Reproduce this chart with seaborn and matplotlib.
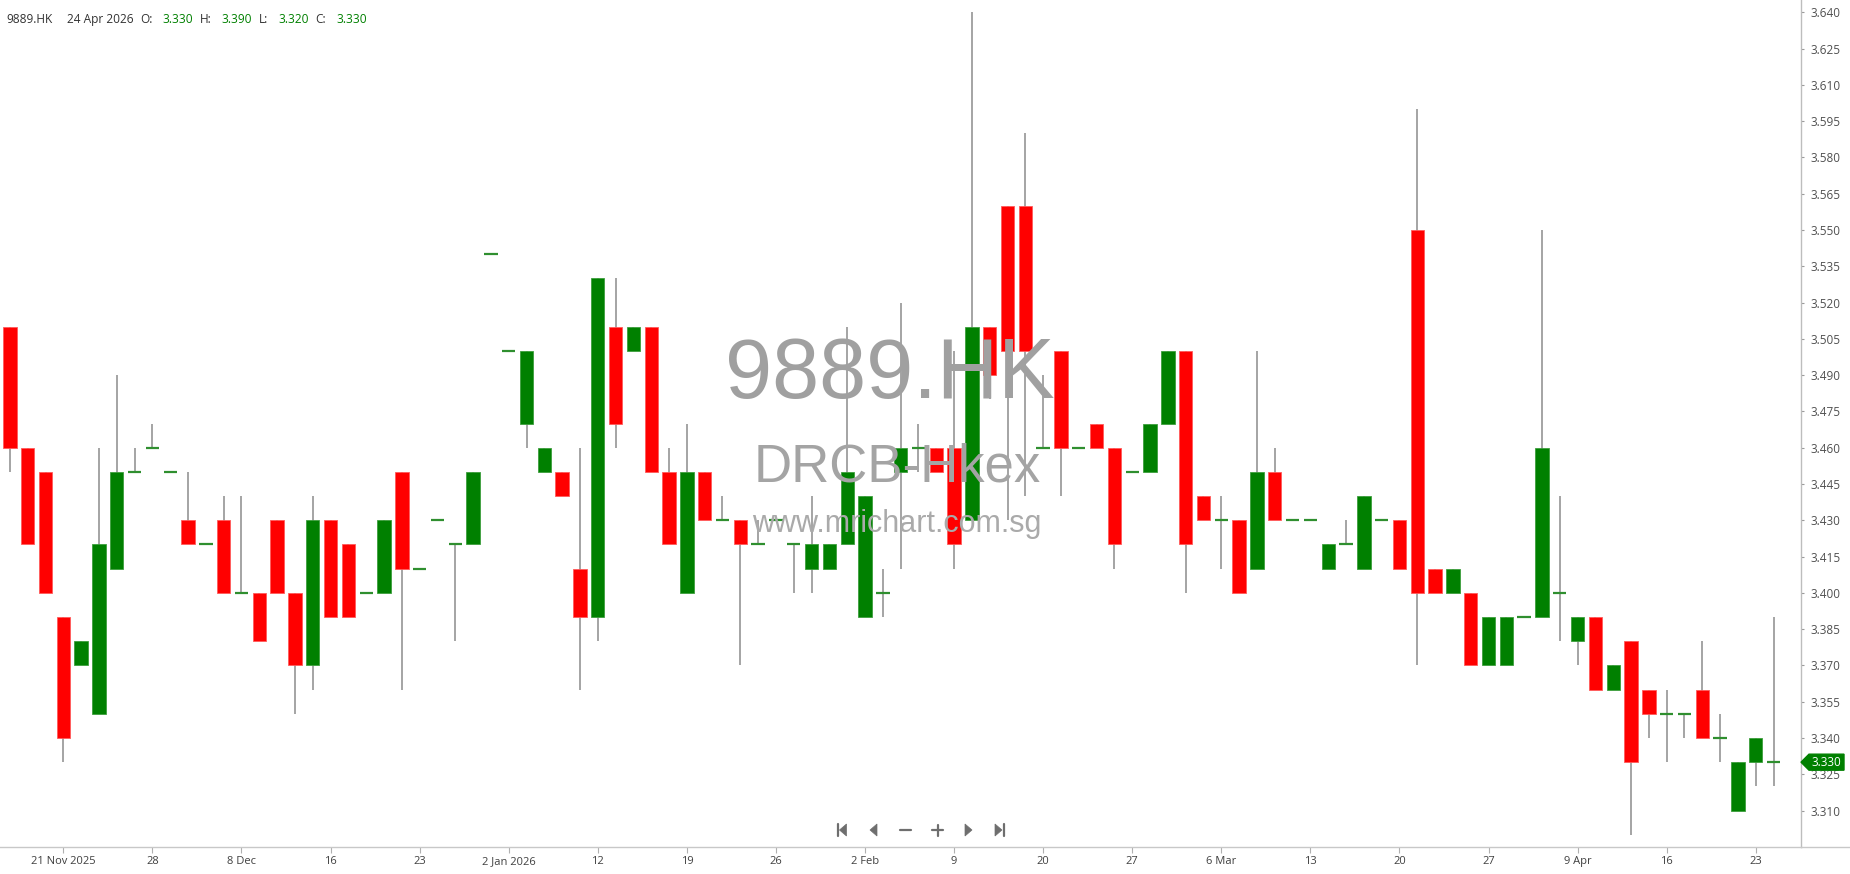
import numpy as np
import pandas as pd
import matplotlib
matplotlib.use("Agg")
import matplotlib.pyplot as plt
import seaborn as sns
from matplotlib.patches import Polygon
from matplotlib.lines import Line2D

# ---------------- data ----------------
opens = [3.510, 3.460, 3.450, 3.390, 3.370, 3.350, 3.410, 3.450, 3.460, 3.450,
         3.430, 3.420, 3.430, 3.400, 3.400, 3.430, 3.400, 3.370, 3.430, 3.420,
         3.400, 3.400, 3.450, 3.410, 3.430, 3.420, 3.420, 3.540, 3.500, 3.470,
         3.450, 3.450, 3.410, 3.390, 3.510, 3.500, 3.510, 3.450, 3.400, 3.450,
         3.430, 3.430, 3.420, 3.430, 3.420, 3.410, 3.410, 3.420, 3.390, 3.400,
         3.450, 3.460, 3.460, 3.460, 3.430, 3.510, 3.560, 3.560, 3.460, 3.500,
         3.460, 3.470, 3.460, 3.450, 3.450, 3.470, 3.500, 3.440, 3.430, 3.430,
         3.410, 3.450, 3.430, 3.430, 3.410, 3.420, 3.410, 3.430, 3.430, 3.550,
         3.410, 3.400, 3.400, 3.370, 3.370, 3.390, 3.390, 3.400, 3.380, 3.390,
         3.360, 3.380, 3.360, 3.350, 3.350, 3.360, 3.340, 3.310, 3.330, 3.330]
highs = [3.510, 3.460, 3.450, 3.390, 3.380, 3.460, 3.490, 3.460, 3.470, 3.450,
         3.450, 3.420, 3.440, 3.440, 3.400, 3.430, 3.400, 3.440, 3.430, 3.420,
         3.400, 3.430, 3.450, 3.410, 3.430, 3.420, 3.450, 3.540, 3.500, 3.500,
         3.460, 3.450, 3.460, 3.530, 3.530, 3.510, 3.510, 3.460, 3.470, 3.450,
         3.440, 3.430, 3.430, 3.430, 3.420, 3.440, 3.420, 3.510, 3.440, 3.410,
         3.520, 3.470, 3.460, 3.500, 3.640, 3.510, 3.560, 3.590, 3.490, 3.500,
         3.460, 3.470, 3.460, 3.450, 3.470, 3.500, 3.500, 3.440, 3.440, 3.430,
         3.500, 3.460, 3.430, 3.430, 3.420, 3.430, 3.440, 3.430, 3.430, 3.600,
         3.410, 3.410, 3.400, 3.390, 3.390, 3.390, 3.550, 3.440, 3.390, 3.390,
         3.370, 3.380, 3.360, 3.360, 3.350, 3.380, 3.350, 3.330, 3.340, 3.390]
lows = [3.450, 3.420, 3.400, 3.330, 3.370, 3.350, 3.410, 3.450, 3.460, 3.450,
        3.420, 3.420, 3.400, 3.400, 3.380, 3.400, 3.350, 3.360, 3.390, 3.390,
        3.400, 3.400, 3.360, 3.410, 3.430, 3.380, 3.420, 3.540, 3.500, 3.460,
        3.450, 3.440, 3.360, 3.380, 3.460, 3.500, 3.450, 3.420, 3.400, 3.430,
        3.430, 3.370, 3.420, 3.430, 3.400, 3.400, 3.410, 3.420, 3.390, 3.390,
        3.410, 3.450, 3.450, 3.410, 3.430, 3.480, 3.430, 3.440, 3.460, 3.440,
        3.460, 3.460, 3.410, 3.450, 3.450, 3.470, 3.400, 3.430, 3.410, 3.400,
        3.410, 3.430, 3.430, 3.430, 3.410, 3.420, 3.410, 3.430, 3.410, 3.370,
        3.400, 3.400, 3.370, 3.370, 3.370, 3.390, 3.390, 3.380, 3.370, 3.360,
        3.360, 3.300, 3.340, 3.330, 3.340, 3.340, 3.330, 3.310, 3.320, 3.320]
closes = [3.460, 3.420, 3.400, 3.340, 3.380, 3.420, 3.450, 3.450, 3.460, 3.450,
          3.420, 3.420, 3.400, 3.400, 3.380, 3.400, 3.370, 3.430, 3.390, 3.390,
          3.400, 3.430, 3.410, 3.410, 3.430, 3.420, 3.450, 3.540, 3.500, 3.500,
          3.460, 3.440, 3.390, 3.530, 3.470, 3.510, 3.450, 3.420, 3.450, 3.430,
          3.430, 3.420, 3.420, 3.430, 3.420, 3.420, 3.420, 3.450, 3.440, 3.400,
          3.460, 3.460, 3.450, 3.420, 3.510, 3.490, 3.500, 3.500, 3.460, 3.460,
          3.460, 3.460, 3.420, 3.450, 3.470, 3.500, 3.420, 3.430, 3.430, 3.400,
          3.450, 3.430, 3.430, 3.430, 3.420, 3.420, 3.440, 3.430, 3.410, 3.400,
          3.400, 3.410, 3.370, 3.390, 3.390, 3.390, 3.460, 3.400, 3.390, 3.360,
          3.370, 3.330, 3.350, 3.350, 3.350, 3.340, 3.340, 3.330, 3.340, 3.330]

date_labels = ["21 Nov 2025", "28", "8 Dec", "16", "23", "2 Jan 2026", "12", "19",
               "26", "2 Feb", "9", "20", "27", "6 Mar", "13", "20", "27", "9 Apr",
               "16", "23"]
first_label_bar = 3
label_step = 5
price_ticks = [3.310, 3.325, 3.340, 3.355, 3.370, 3.385, 3.400, 3.415, 3.430,
               3.445, 3.460, 3.475, 3.490, 3.505, 3.520, 3.535, 3.550, 3.565,
               3.580, 3.595, 3.610, 3.625, 3.640]

symbol = "9889.HK"
name = "DRCB-Hkex"
site = "www.mrichart.com.sg"
last_date = "24 Apr 2026"

# ---------------- style ----------------
sns.set_theme(style="white")
plt.rcParams['font.family'] = ['Open Sans', 'DejaVu Sans']

W, H = 1850, 874
fig = plt.figure(figsize=(W / 100, H / 100), dpi=100)
ax_right_px = 1801
ax_bottom_px = 846.7
ax = fig.add_axes([0, 1 - ax_bottom_px / H, ax_right_px / W, ax_bottom_px / H])

def fx(x):
    return x / W

def fy(y):
    return 1 - y / H

df = pd.DataFrame({"o": opens, "h": highs, "l": lows, "c": closes})
df["i"] = np.arange(len(df))
up = df[df.c > df.o + 1e-9]
dn = df[df.c < df.o - 1e-9]
dj = df[np.isclose(df.c, df.o)]

GREEN = "#008000"
RED = "#ff0000"
WICK = "#8c8c8c"
bw = 0.75

# watermark (behind candles)
fig.text(fx(890), fy(397.6), symbol, ha="center", va="baseline", fontsize=61,
         color="#a0a0a0", family=["Liberation Sans", "DejaVu Sans"], zorder=0)
fig.text(fx(897), fy(481.4), name, ha="center", va="baseline", fontsize=38,
         color="#a4a4a4", family=["Liberation Sans", "DejaVu Sans"], zorder=0)
fig.text(fx(897), fy(532), site, ha="center", va="baseline", fontsize=22,
         color="#aaaaaa", family=["Liberation Sans", "DejaVu Sans"], zorder=0)
ax.set_facecolor("none")
ax.patch.set_alpha(0)

ax.vlines(df.i, df.l, df.h, color=WICK, lw=1.1, zorder=2)
ax.bar(up.i, up.c - up.o, bottom=up.o, width=bw, color=GREEN,
       edgecolor="#3d9e3d", linewidth=0.6, zorder=3)
ax.bar(dn.i, dn.o - dn.c, bottom=dn.c, width=bw, color=RED,
       edgecolor="#ff5a5a", linewidth=0.6, zorder=3)
ax.hlines(dj.c, dj.i - bw / 2, dj.i + bw / 2, color="#2f8f2f", lw=1.6, zorder=3)

# limits
ax.set_xlim(-0.5557, 100.54)
ax.set_ylim(3.29506, 3.64508)

# axes styling
for s in ["left", "top"]:
    ax.spines[s].set_visible(False)
ax.spines["right"].set_color("#bdbdbd")
ax.spines["right"].set_linewidth(1.0)
ax.spines["bottom"].set_color("#c8c8c8")
ax.spines["bottom"].set_linewidth(1.0)

ax.yaxis.tick_right()
ax.set_yticks(price_ticks)
ax.set_yticklabels([f"{p:.3f}" for p in price_ticks])
ax.tick_params(axis="y", which="both", right=True, left=False, length=2.5,
               width=0.8, color="#9a9a9a", pad=4.5, labelsize=8.5,
               labelcolor="#505050")

tick_pos = [first_label_bar + label_step * k for k in range(len(date_labels))]
ax.set_xticks(tick_pos)
ax.set_xticklabels(date_labels)
ax.tick_params(axis="x", which="both", bottom=True, length=4, width=0.8,
               color="#b0b0b0", pad=2.5, labelsize=8, labelcolor="#404040")
ax.grid(False)

# bottom line continuing beyond the price axis
fig.add_artist(Line2D([fx(ax_right_px), 1.0], [fy(ax_bottom_px)] * 2,
                      transform=fig.transFigure, color="#c8c8c8", lw=1.0))

# last price tag
last = closes[-1]
yt = ax.transData.transform((0, last))[1]
yt_px = H - yt
tag = Polygon([(fx(1801), fy(yt_px)), (fx(1809), fy(yt_px - 8)), (fx(1844), fy(yt_px - 8)),
               (fx(1844), fy(yt_px + 8)), (fx(1809), fy(yt_px + 8))],
              closed=True, transform=fig.transFigure, facecolor=GREEN,
              edgecolor=GREEN, zorder=10)
fig.add_artist(tag)
fig.text(fx(1826.5), fy(yt_px), f"{last:.3f}", ha="center", va="center",
         fontsize=8.5, color="white", zorder=11)

# header
hdr_y = fy(22.7)
pieces = [(6.7, symbol, "#333333"), (66.7, last_date, "#333333"),
          (140, "O:", "#333333"), (162.3, f"{opens[-1]:.3f}", GREEN),
          (200, "H:", "#333333"), (221.7, f"{highs[-1]:.3f}", GREEN),
          (259.3, "L:", "#333333"), (278.3, f"{lows[-1]:.3f}", GREEN),
          (315, "C:", "#333333"), (336, f"{closes[-1]:.3f}", GREEN)]
for x, t, col in pieces:
    fig.text(fx(x), hdr_y, t, ha="left", va="baseline", fontsize=8.6, color=col)

# navigation buttons
NAV = "#6e6e6e"
def poly(pts):
    fig.add_artist(Polygon([(fx(a), fy(b)) for a, b in pts], closed=True,
                           transform=fig.transFigure, facecolor=NAV,
                           edgecolor=NAV, lw=0.5))
def line(x0, y0, x1, y1, lw=1.6):
    fig.add_artist(Line2D([fx(x0), fx(x1)], [fy(y0), fy(y1)],
                          transform=fig.transFigure, color=NAV, lw=lw))
cy = 830
line(837.5, cy - 6, 837.5, cy + 6)
poly([(839.5, cy), (846.5, cy - 6), (846.5, cy + 6)])
poly([(870, cy), (877, cy - 6), (877, cy + 6)])
line(900, cy, 911, cy)
line(932, cy, 943, cy)
line(937.5, cy - 5.5, 937.5, cy + 5.5)
poly([(965, cy - 6), (965, cy + 6), (972, cy)])
poly([(995, cy - 6), (995, cy + 6), (1002, cy)])
line(1003.5, cy - 6, 1003.5, cy + 6)

fig.savefig("out.png", dpi=100)
